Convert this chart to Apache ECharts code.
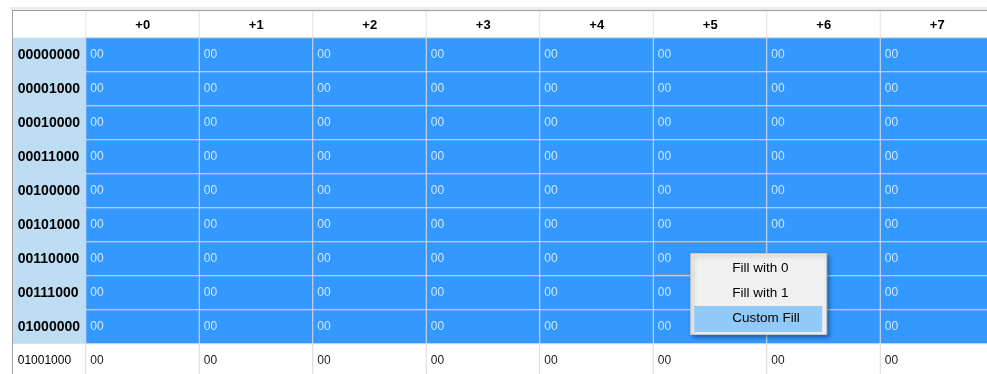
<!DOCTYPE html>
<html>
<head>
<meta charset="utf-8">
<script src="https://cdn.jsdelivr.net/npm/echarts@6/dist/echarts.min.js"></script>
<style>
  html, body { margin: 0; padding: 0; background: #fff; overflow: hidden; }
  #main { width: 987px; height: 374px; }
</style>
</head>
<body>
<div id="main"></div>
<script>
// column offsets and row addresses
const columns = ['+0', '+1', '+2', '+3', '+4', '+5', '+6', '+7'];
const rows = ['00000000', '00001000', '00010000', '00011000', '00100000',
              '00101000', '00110000', '00111000', '01000000', '01001000'];
// 1 = row is selected
const selected = [1, 1, 1, 1, 1, 1, 1, 1, 1, 0];
const bytes = [
  ['00', '00', '00', '00', '00', '00', '00', '00'],
  ['00', '00', '00', '00', '00', '00', '00', '00'],
  ['00', '00', '00', '00', '00', '00', '00', '00'],
  ['00', '00', '00', '00', '00', '00', '00', '00'],
  ['00', '00', '00', '00', '00', '00', '00', '00'],
  ['00', '00', '00', '00', '00', '00', '00', '00'],
  ['00', '00', '00', '00', '00', '00', '00', '00'],
  ['00', '00', '00', '00', '00', '00', '00', '00'],
  ['00', '00', '00', '00', '00', '00', '00', '00'],
  ['00', '00', '00', '00', '00', '00', '00', '00']
];
const focusCell = ['+5', '00110000'];
const menuItems = ['Fill with 0', 'Fill with 1', 'Custom Fill'];
const menuActive = 2;

const FONT = '"Liberation Sans", Arial, sans-serif';
const BLUE = '#3399ff';
const HEAD_SEL = '#bedcf2';
const LINE = '#dadada';

const chart = echarts.init(document.getElementById('main'));

const headLeft = 13, headW = 73, bodyLeft = 86, colW = 113.5;
const headerTop = 11, headerH = 27, bodyTop = 38, rowH = 34;
const bodyW = colW * columns.length;
const bodyH = rowH * rows.length;

const headerData = columns.map((c, i) => ({
  value: [i, 0, 0],
  itemStyle: { color: '#fff', borderColor: '#e3e3e3', borderWidth: 1 },
  label: { formatter: c }
}));

const rowHeadData = rows.map((r, j) => ({
  value: [0, j, selected[j]],
  itemStyle: { color: selected[j] ? HEAD_SEL : '#fff', borderWidth: 0 },
  label: {
    formatter: r,
    fontWeight: selected[j] ? 'bold' : 'normal',
    fontSize: selected[j] ? 14 : 12
  }
}));

const bodyData = [];
rows.forEach((r, j) => {
  columns.forEach((c, i) => {
    bodyData.push({
      value: [i, j, selected[j]],
      itemStyle: { color: selected[j] ? BLUE : '#fff' },
      label: { formatter: bytes[j][i], color: selected[j] ? '#cfe6ff' : '#222' }
    });
  });
});

const option = {
  animation: false,
  backgroundColor: '#fff',
  grid: [
    { left: bodyLeft, top: headerTop, width: bodyW, height: headerH, outerBoundsMode: 'none' },
    { left: headLeft, top: bodyTop, width: headW, height: bodyH, outerBoundsMode: 'none' },
    { left: bodyLeft, top: bodyTop, width: bodyW, height: bodyH, outerBoundsMode: 'none' }
  ],
  xAxis: [
    { type: 'category', gridIndex: 0, data: columns, show: false },
    { type: 'category', gridIndex: 1, data: [''], show: false },
    { type: 'category', gridIndex: 2, data: columns, show: false }
  ],
  yAxis: [
    { type: 'category', gridIndex: 0, data: [''], show: false },
    { type: 'category', gridIndex: 1, data: rows, inverse: true, show: false },
    { type: 'category', gridIndex: 2, data: rows, inverse: true, show: false }
  ],
  series: [
    {
      type: 'heatmap', xAxisIndex: 0, yAxisIndex: 0, data: headerData,
      label: { show: true, fontFamily: FONT, fontSize: 13, fontWeight: 'bold', color: '#000', offset: [0, 1] },
      emphasis: { disabled: true }
    },
    {
      type: 'heatmap', xAxisIndex: 1, yAxisIndex: 1, data: rowHeadData,
      label: { show: true, position: 'insideLeft', distance: 5, fontFamily: FONT, color: '#000' },
      emphasis: { disabled: true }
    },
    {
      type: 'heatmap', xAxisIndex: 2, yAxisIndex: 2, data: bodyData,
      itemStyle: { borderColor: LINE, borderWidth: 1 },
      label: { show: true, position: 'insideLeft', distance: 5, fontFamily: FONT, fontSize: 12 },
      emphasis: { disabled: true }
    }
  ]
};
chart.setOption(option);

// focus rectangle and context menu, anchored on the focused cell
const fc = chart.convertToPixel({ gridIndex: 2 },
  [columns.indexOf(focusCell[0]), rows.indexOf(focusCell[1])]);
const fx = Math.round(fc[0] - colW / 2) + 1.5;
const fy = Math.round(fc[1] - rowH / 2) + 0.5;
const mx = fc[0] - 20, my = fc[1] - 6;
const graphics = [
  { type: 'rect', shape: { x: 10, y: 7, width: 977, height: 3 }, style: { fill: '#ececec' }, z: 10 },
  { type: 'line', shape: { x1: 12, y1: 10.5, x2: 987, y2: 10.5 }, style: { stroke: '#a0a0a0', lineWidth: 1 }, z: 10 },
  { type: 'line', shape: { x1: 12.5, y1: 10, x2: 12.5, y2: 374 }, style: { stroke: '#a0a0a0', lineWidth: 1 }, z: 10 },
  {
    type: 'polyline', z: 15,
    shape: { points: [[fx, fy], [fx + 110, fy], [fx + 110, fy + 32], [fx, fy + 32], [fx, fy]] },
    style: { fill: null, stroke: '#d4873c', lineWidth: 1, lineDash: [1, 1] }
  },
  {
    type: 'rect', shape: { x: mx + 0.5, y: my + 0.5, width: 136, height: 81 },
    style: { fill: '#f0f0f0', stroke: '#c8c8c8', lineWidth: 1,
      shadowBlur: 4, shadowOffsetX: 2, shadowOffsetY: 2, shadowColor: 'rgba(0,0,0,0.35)' }, z: 20
  },
  {
    type: 'rect', shape: { x: mx + 4, y: my + 3 + menuActive * 25, width: 128, height: 26 },
    style: { fill: '#91c9f7' }, z: 21
  }
];
menuItems.forEach((t, k) => {
  graphics.push({
    type: 'text', x: mx + 42, y: my + 15 + k * 25, z: 22,
    style: { text: t, fill: '#000', font: '13.5px ' + FONT, textVerticalAlign: 'middle', verticalAlign: 'middle' }
  });
});
chart.setOption({ graphic: graphics });
</script>
</body>
</html>
